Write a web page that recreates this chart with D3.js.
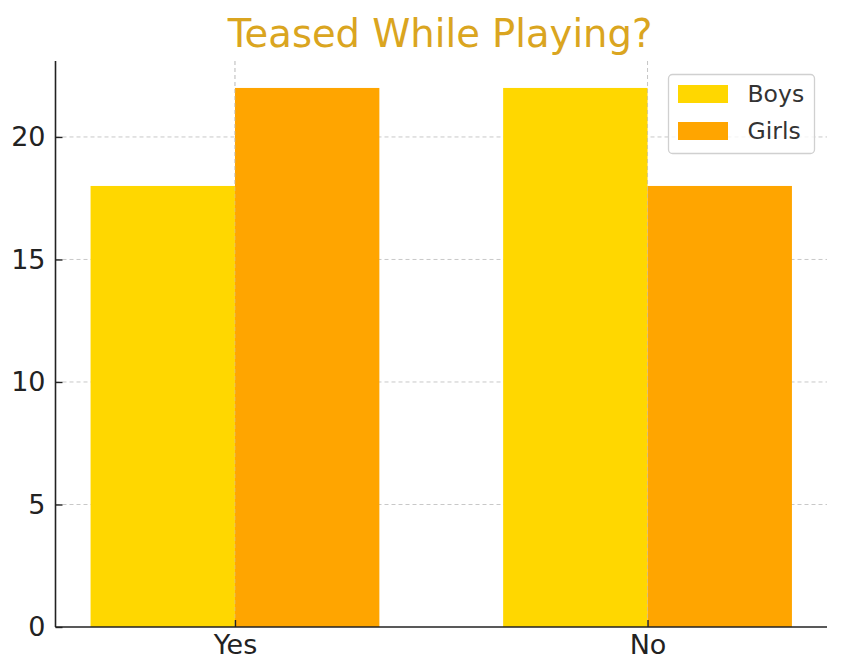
<!DOCTYPE html>
<html><head><meta charset="utf-8">
<script src="https://cdn.jsdelivr.net/npm/d3@7"></script>
<style>body{margin:0;background:#fff;} svg{display:block;}</style>
</head><body>
<script>
const categories = ["Yes", "No"];
const seriesNames = ["Boys", "Girls"];
const boys = [18, 22];
const girls = [22, 18];
const yTicks = [0, 5, 10, 15, 20];
const title = "Teased While Playing?";
const colors = ["#FFD700", "#FFA500"];

const W = 846, H = 659;
const m = {left: 55.5, right: 19, top: 61, bottom: 32};
const svg = d3.select("body").append("svg").attr("width", W).attr("height", H);
const font = "DejaVu Sans, sans-serif";

const barW = 0.35;
const x = d3.scaleLinear().domain([-0.435, 1.435]).range([m.left, W - m.right]);
const y = d3.scaleLinear().domain([0, 23.1]).range([H - m.bottom, m.top]);

const g = svg.append("g");
// grid
g.selectAll(".hg").data(yTicks.slice(1)).join("line")
  .attr("x1", m.left).attr("x2", W - m.right)
  .attr("y1", d => y(d)).attr("y2", d => y(d))
  .attr("stroke", "#c8c8c8").attr("stroke-width", 1).attr("stroke-dasharray", "4,3");
g.selectAll(".vg").data(categories).join("line")
  .attr("x1", (d, i) => x(i)).attr("x2", (d, i) => x(i))
  .attr("y1", m.top).attr("y2", H - m.bottom)
  .attr("stroke", "#c8c8c8").attr("stroke-width", 1).attr("stroke-dasharray", "4,3");

// bars
const series = [boys, girls];
series.forEach((vals, s) => {
  g.selectAll(".b" + s).data(vals).join("rect")
    .attr("x", (d, i) => x(i + (s === 0 ? -barW : 0)))
    .attr("width", x(barW) - x(0))
    .attr("y", d => y(d))
    .attr("height", d => y(0) - y(d))
    .attr("fill", colors[s]);
});
g.selectAll(".vg2").data(categories).join("line")
  .attr("x1", (d, i) => x(i)).attr("x2", (d, i) => x(i))
  .attr("y1", m.top).attr("y2", H - m.bottom)
  .attr("stroke", "#c8c8c8").attr("stroke-opacity", 0.5).attr("stroke-width", 1).attr("stroke-dasharray", "4,3");

// axes
const yAxis = d3.axisLeft(y).tickValues(yTicks).tickSize(-7).tickPadding(10).tickSizeOuter(0);
const ya = svg.append("g").attr("transform", `translate(${m.left},0)`).call(yAxis);
ya.select(".domain").attr("stroke", "#222").attr("stroke-width", 1.6).attr("d", `M0,${m.top}V${H - m.bottom}`);
ya.selectAll(".tick line").attr("stroke", "#222").attr("stroke-width", 1.4);
ya.selectAll("text").attr("font-family", font).attr("font-size", 27).attr("fill", "#222");

const xb = d3.scaleOrdinal().domain(categories).range(categories.map((c, i) => x(i)));
const xAxis = d3.axisBottom(xb).tickSize(-7).tickPadding(8).tickSizeOuter(0);
const xa = svg.append("g").attr("transform", `translate(0,${H - m.bottom})`).call(xAxis);
xa.select(".domain").attr("stroke", "#222").attr("stroke-width", 1.6).attr("d", `M${m.left},0H${W - m.right}`);
xa.selectAll(".tick line").attr("stroke", "#222").attr("stroke-width", 1.4);
xa.selectAll("text").attr("font-family", font).attr("font-size", 27).attr("fill", "#222");

// title
svg.append("text").attr("x", 440).attr("y", 47).attr("text-anchor", "middle")
  .attr("font-family", font).attr("font-size", 38.5).attr("fill", "#DAA520").text(title);

// legend
const lg = svg.append("g");
lg.append("rect").attr("x", 668.5).attr("y", 74.5).attr("width", 146).attr("height", 79)
  .attr("rx", 4).attr("fill", "#fff").attr("fill-opacity", 0.8).attr("stroke", "#d0d0d0").attr("stroke-width", 1.3);
seriesNames.forEach((n, i) => {
  lg.append("rect").attr("x", 678).attr("y", 85 + i * 37).attr("width", 50).attr("height", 18).attr("fill", colors[i]);
  lg.append("text").attr("x", 747.5).attr("y", 94 + i * 37).attr("dy", "0.36em")
    .attr("font-family", font).attr("font-size", 23.5).attr("fill", "#333").text(n);
});
</script>
</body></html>
